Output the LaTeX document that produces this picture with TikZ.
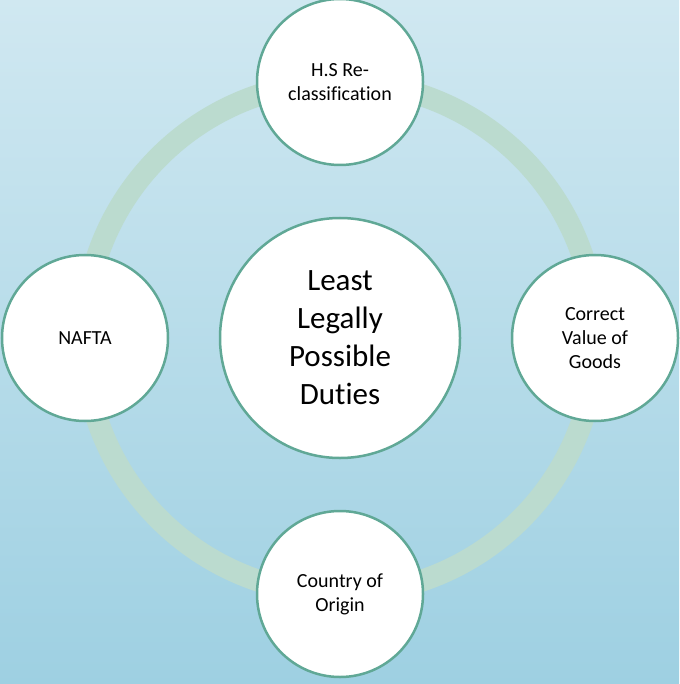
\documentclass[tikz,border=0pt]{standalone}
\usepackage{fontspec}
\setmainfont{Carlito}[Ligatures=NoCommon]
\begin{document}
\begin{tikzpicture}[x=1pt,y=-1pt,
  sat/.style={circle,draw=edgec,line width=2.5pt,fill=white,minimum size=166pt,inner sep=0pt,align=center,font=\fontsize{20}{24}\selectfont},
  hub/.style={circle,draw=edgec,line width=2.5pt,fill=white,minimum size=240pt,inner sep=0pt,align=center,font=\fontsize{31}{38}\selectfont}]
\definecolor{bgtop}{RGB}{208,232,241}
\definecolor{bgbot}{RGB}{158,208,226}
\definecolor{ringc}{RGB}{187,219,207}
\definecolor{edgec}{RGB}{96,168,150}
\shade[top color=bgtop,bottom color=bgbot] (0,0) rectangle (679,684);
\useasboundingbox (0,0) rectangle (679,684);
\coordinate (o) at (340,338);
\draw[ringc,line width=22pt] (o) circle[radius=256];
\node[hub] (c) at (o) {Least\\Legally\\Possible\\Duties};
\node[sat] (t) at (340,82) {H.S Re-\\classification};
\node[sat] (l) at (85,338) {NAFTA};
\node[sat] (r) at (595,338) {Correct\\Value of\\Goods};
\node[sat] (b) at (340,594) {Country of\\Origin};
\end{tikzpicture}
\end{document}
